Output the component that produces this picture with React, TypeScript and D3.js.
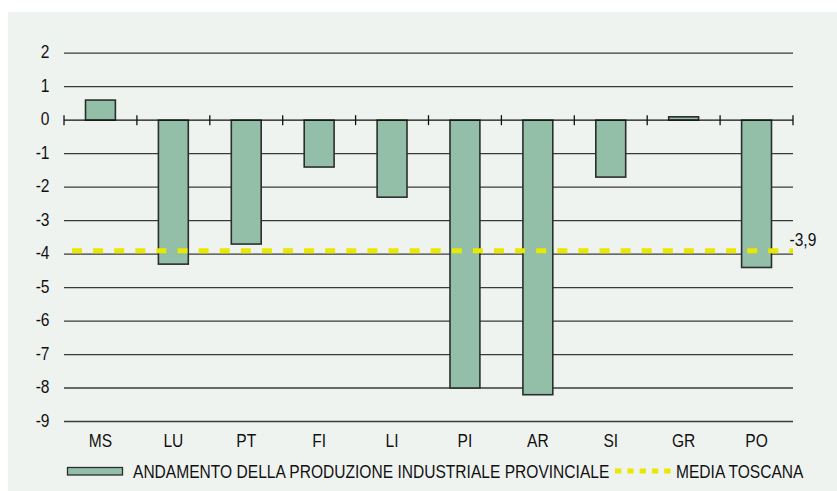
import React from "react";
import * as d3 from "d3";

// Variazione della produzione industriale per provincia (%)
const provinces = ["MS", "LU", "PT", "FI", "LI", "PI", "AR", "SI", "GR", "PO"];
const values = [0.6, -4.3, -3.7, -1.4, -2.3, -8.0, -8.2, -1.7, 0.1, -4.4];
const regionalAverage = -3.9;
const yTicks = [2, 1, 0, -1, -2, -3, -4, -5, -6, -7, -8, -9];
const barLabel = "ANDAMENTO DELLA PRODUZIONE INDUSTRIALE PROVINCIALE";
const lineLabel = "MEDIA TOSCANA";

const W = 837;
const H = 491;
const FONT = "'Liberation Sans', Arial, sans-serif";
const FS = 19;
const NARROW = 0.82;

type LabelProps = {
  x: number;
  y: number;
  anchor?: "start" | "middle" | "end";
  children: React.ReactNode;
};

// testo condensato: scala orizzontale attorno al punto di ancoraggio
function Label({ x, y, anchor = "start", children }: LabelProps) {
  return (
    <text
      transform={`translate(${x},${y}) scale(${NARROW},1)`}
      textAnchor={anchor}
      fontFamily={FONT}
      fontSize={FS}
      fill="#111"
    >
      {children}
    </text>
  );
}

export default function App() {
  const left = 64;
  const right = 793;
  const x = d3.scaleBand<string>().domain(provinces).range([left, right]).paddingInner(0).paddingOuter(0);
  const y = d3.scaleLinear().domain([-9, 2]).range([421.5, 53.2]);
  const barW = x.bandwidth() * 0.41;
  const boundaries = d3.range(provinces.length + 1).map((i) => left + i * x.step());
  const fmt = (v: number) => d3.format(".1f")(v).replace(".", ",").replace("−", "-");

  return (
    <div style={{ position: "absolute", left: 0, top: 0, width: W, height: H }}>
      <svg width={W} height={H} style={{ display: "block" }}>
        <rect x={0} y={0} width={W} height={H} fill="#ffffff" />
        <rect x={8} y={12} width={W - 8} height={H - 12} fill="#eff3f0" />

        {/* griglia orizzontale */}
        {yTicks.filter((t) => t !== 0).map((t) => (
          <line key={t} x1={left} x2={right} y1={y(t)} y2={y(t)} stroke="#3a3a3a" strokeWidth={1.3} />
        ))}

        {/* barre */}
        {provinces.map((p, i) => {
          const v = values[i];
          const cx = (x(p) as number) + x.bandwidth() / 2;
          const y0 = y(0);
          const y1 = y(v);
          return (
            <rect
              key={p}
              x={cx - barW / 2}
              y={Math.min(y0, y1)}
              width={barW}
              height={Math.abs(y1 - y0)}
              fill="#93bea8"
              stroke="#2a2f2c"
              strokeWidth={1.6}
            />
          );
        })}

        {/* asse dello zero con tacche */}
        <line x1={left} x2={right} y1={y(0)} y2={y(0)} stroke="#111" strokeWidth={1.4} />
        {boundaries.map((bx, i) => (
          <line key={i} x1={bx} x2={bx} y1={y(0) - 5} y2={y(0) + 5} stroke="#111" strokeWidth={1.3} />
        ))}

        {/* media regionale */}
        <line
          x1={left}
          x2={right}
          y1={y(regionalAverage)}
          y2={y(regionalAverage)}
          stroke="#e8e800"
          strokeWidth={5}
          strokeDasharray="10 11.1"
          strokeDashoffset={-8}
        />
        <Label x={789.5} y={y(regionalAverage) - 4.5}>
          {fmt(regionalAverage)}
        </Label>

        {/* etichette asse Y */}
        {yTicks.map((t) => (
          <Label key={t} x={49.5} y={y(t) + 5} anchor="end">
            {t}
          </Label>
        ))}

        {/* etichette categorie */}
        {provinces.map((p) => (
          <Label key={p} x={(x(p) as number) + x.bandwidth() / 2} y={447} anchor="middle">
            {p}
          </Label>
        ))}

        {/* legenda */}
        <rect x={67.5} y={467.5} width={55} height={7.5} fill="#93bea8" stroke="#2a2f2c" strokeWidth={1.3} />
        <Label x={133} y={478}>
          {barLabel}
        </Label>
        <line
          x1={615}
          x2={671}
          y1={471}
          y2={471}
          stroke="#e8e800"
          strokeWidth={5}
          strokeDasharray="6.3 6"
        />
        <Label x={676} y={478}>
          {lineLabel}
        </Label>
      </svg>
    </div>
  );
}
